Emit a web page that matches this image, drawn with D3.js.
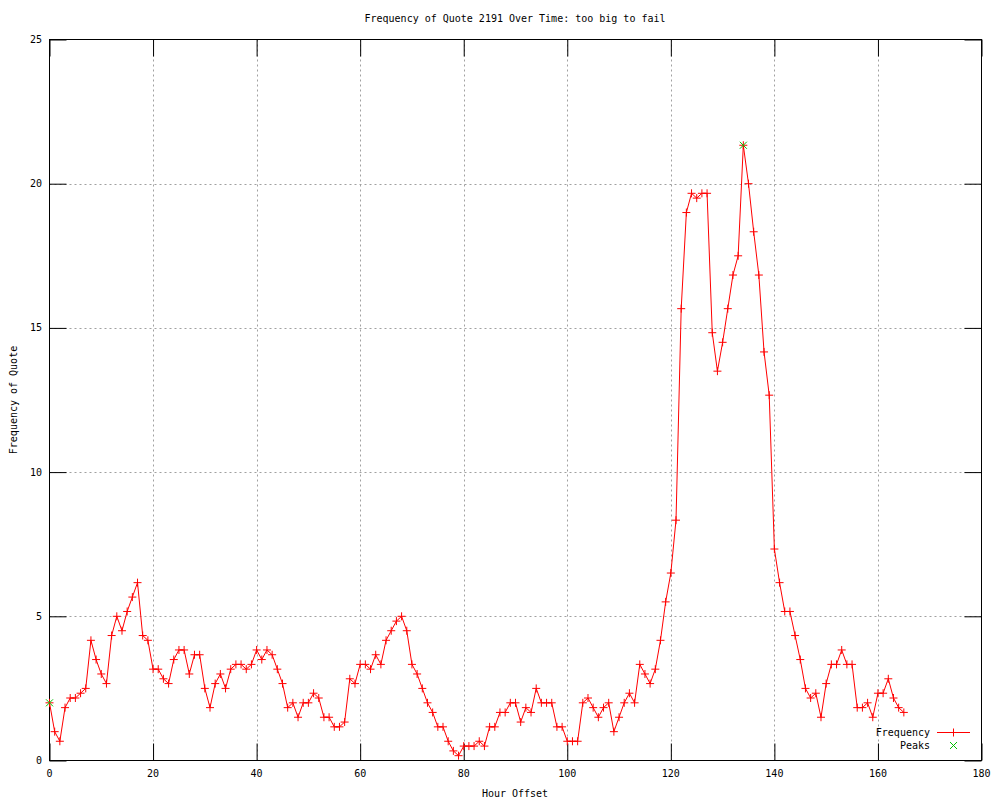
<!DOCTYPE html>
<html>
<head>
<meta charset="utf-8">
<script src="https://cdn.jsdelivr.net/npm/d3@7"></script>
<style>
  html, body { margin: 0; padding: 0; background: #fff; }
  svg text { font-family: "DejaVu Sans Mono", "Liberation Mono", monospace; font-size: 10px; fill: #000; }
</style>
</head>
<body>
<svg id="chart" width="1000" height="800"></svg>
<script>
// ---- data ----
const title = "Frequency of Quote 2191 Over Time: too big to fail";
const xLabel = "Hour Offset";
const yLabel = "Frequency of Quote";
const xTicks = [0, 20, 40, 60, 80, 100, 120, 140, 160, 180];
const yTicks = [0, 5, 10, 15, 20, 25];
const frequency = [
  2.0, 1.0, 0.667, 1.833, 2.167, 2.167, 2.333, 2.5, 4.167, 3.5,
  3.0, 2.667, 4.333, 5.0, 4.5, 5.167, 5.667, 6.167, 4.333, 4.167,
  3.167, 3.167, 2.833, 2.667, 3.5, 3.833, 3.833, 3.0, 3.667, 3.667,
  2.5, 1.833, 2.667, 3.0, 2.5, 3.167, 3.333, 3.333, 3.167, 3.333,
  3.833, 3.5, 3.833, 3.667, 3.167, 2.667, 1.833, 2.0, 1.5, 2.0,
  2.0, 2.333, 2.167, 1.5, 1.5, 1.167, 1.167, 1.333, 2.833, 2.667,
  3.333, 3.333, 3.167, 3.667, 3.333, 4.167, 4.5, 4.833, 5.0, 4.5,
  3.333, 3.0, 2.5, 2.0, 1.667, 1.167, 1.167, 0.667, 0.333, 0.167,
  0.5, 0.5, 0.5, 0.667, 0.5, 1.167, 1.167, 1.667, 1.667, 2.0,
  2.0, 1.333, 1.833, 1.667, 2.5, 2.0, 2.0, 2.0, 1.167, 1.167,
  0.667, 0.667, 0.667, 2.0, 2.167, 1.833, 1.5, 1.833, 2.0, 1.0,
  1.5, 2.0, 2.333, 2.0, 3.333, 3.0, 2.667, 3.167, 4.167, 5.5,
  6.5, 8.333, 15.667, 19.0, 19.667, 19.5, 19.667, 19.667, 14.833, 13.5,
  14.5, 15.667, 16.833, 17.5, 21.333, 20.0, 18.333, 16.833, 14.167, 12.667,
  7.333, 6.167, 5.167, 5.167, 4.333, 3.5, 2.5, 2.167, 2.333, 1.5,
  2.667, 3.333, 3.333, 3.833, 3.333, 3.333, 1.833, 1.833, 2.0, 1.5,
  2.333, 2.333, 2.833, 2.167, 1.833, 1.667
];
const hours = frequency.map((_, i) => i);
const peakHours = [0, 134];
const peakValues = [2.0, 21.333];
const seriesNames = ["Frequency", "Peaks"];

// ---- chart ----
const svg = d3.select("#chart");
const L = 49.5, R = 981.5, T = 39.5, B = 760.5;
const x = d3.scaleLinear().domain([0, 180]).range([L, R]);
const y = d3.scaleLinear().domain([0, 25]).range([B, T]);
const tickLen = 17;

// grid
const grid = svg.append("g").attr("stroke", "#a0a0a0").attr("stroke-width", 1).attr("stroke-dasharray", "2,3");
xTicks.filter(t => t > 0 && t < 180).forEach(t => {
  grid.append("line").attr("x1", Math.round(x(t)) + 0.5).attr("x2", Math.round(x(t)) + 0.5).attr("y1", T).attr("y2", B);
});
yTicks.filter(t => t > 0 && t < 25).forEach(t => {
  grid.append("line").attr("x1", L).attr("x2", R).attr("y1", Math.round(y(t)) + 0.5).attr("y2", Math.round(y(t)) + 0.5);
});

// axes via d3 axis (inner ticks on all four sides)
const axB = svg.append("g").attr("transform", `translate(0,${B})`)
  .call(d3.axisTop(x).tickValues(xTicks).tickSize(tickLen).tickFormat(""));
const axT = svg.append("g").attr("transform", `translate(0,${T})`)
  .call(d3.axisBottom(x).tickValues(xTicks).tickSize(tickLen).tickFormat(""));
const axL = svg.append("g").attr("transform", `translate(${L},0)`)
  .call(d3.axisRight(y).tickValues(yTicks).tickSize(tickLen).tickFormat(""));
const axR = svg.append("g").attr("transform", `translate(${R},0)`)
  .call(d3.axisLeft(y).tickValues(yTicks).tickSize(tickLen).tickFormat(""));
[axB, axT, axL, axR].forEach(a => {
  a.selectAll(".domain").remove();
  a.selectAll("line").attr("stroke", "#000").attr("stroke-width", 1);
});
// border
svg.append("rect").attr("x", L).attr("y", T).attr("width", R - L).attr("height", B - T)
  .attr("fill", "none").attr("stroke", "#000").attr("stroke-width", 1);

// tick labels
svg.append("g").selectAll("text").data(xTicks).join("text")
  .attr("x", d => x(d)).attr("y", 777).attr("text-anchor", "middle").text(d => d);
svg.append("g").selectAll("text").data(yTicks).join("text")
  .attr("x", 42).attr("y", d => y(d) + 3.5).attr("text-anchor", "end").text(d => d);

// titles
svg.append("text").attr("x", 515).attr("y", 22).attr("text-anchor", "middle").text(title);
svg.append("text").attr("x", 515).attr("y", 797).attr("text-anchor", "middle").text(xLabel);
svg.append("text").attr("transform", "translate(17,400) rotate(-90)").attr("text-anchor", "middle").text(yLabel);

// line
const line = d3.line().x((d, i) => x(hours[i])).y(d => y(d));
svg.append("path").datum(frequency).attr("d", line)
  .attr("fill", "none").attr("stroke", "#ff0000").attr("stroke-width", 1);

// plus markers
const plusPath = "M-4,0H4M0,-4V4";
svg.append("g").selectAll("path").data(frequency).join("path")
  .attr("transform", (d, i) => `translate(${x(hours[i])},${y(d)})`)
  .attr("d", plusPath).attr("stroke", "#ff0000").attr("stroke-width", 1).attr("fill", "none");

// peaks (x markers)
const crossPath = "M-3.5,-3.5L3.5,3.5M-3.5,3.5L3.5,-3.5";
svg.append("g").selectAll("path").data(peakValues).join("path")
  .attr("transform", (d, i) => `translate(${x(peakHours[i])},${y(d)})`)
  .attr("d", crossPath).attr("stroke", "#00c000").attr("stroke-width", 1).attr("fill", "none");

// legend
const lg = svg.append("g");
lg.append("text").attr("x", 930).attr("y", 736).attr("text-anchor", "end").text(seriesNames[0]);
lg.append("line").attr("x1", 937).attr("x2", 970).attr("y1", 732.5).attr("y2", 732.5).attr("stroke", "#ff0000");
lg.append("path").attr("transform", "translate(953.5,732.5)").attr("d", plusPath).attr("stroke", "#ff0000");
lg.append("text").attr("x", 930).attr("y", 749).attr("text-anchor", "end").text(seriesNames[1]);
lg.append("path").attr("transform", "translate(953.5,745.5)").attr("d", crossPath).attr("stroke", "#00c000");
</script>
</body>
</html>
